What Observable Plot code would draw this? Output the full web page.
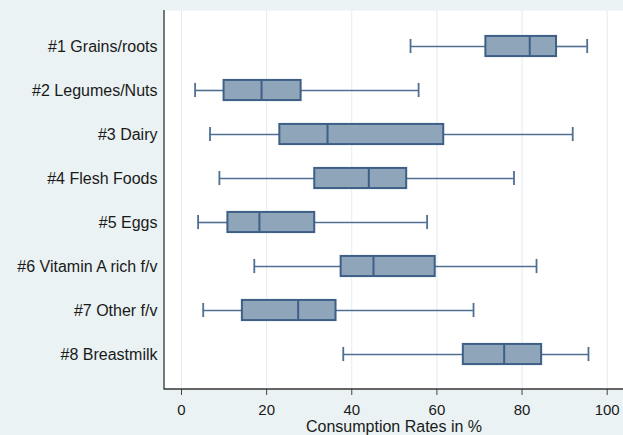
<!DOCTYPE html>
<html>
<head>
<meta charset="utf-8">
<script src="https://cdn.jsdelivr.net/npm/d3@7"></script>
<script src="https://cdn.jsdelivr.net/npm/@observablehq/plot@0.6"></script>
<style>
  html, body { margin: 0; padding: 0; background: #eaf2f3; }
  #chart { width: 623px; height: 435px; }
</style>
</head>
<body>
<div id="chart"></div>
<script>
const categories = ["#1 Grains/roots", "#2 Legumes/Nuts", "#3 Dairy", "#4 Flesh Foods", "#5 Eggs", "#6 Vitamin A rich f/v", "#7 Other f/v", "#8 Breastmilk"];
const lowWhisker  = [53.8,  3.2,  6.7,  8.9,  3.9, 17.1,  5.1, 38.0];
const q1          = [71.5, 10.0, 23.1, 31.3, 10.9, 37.5, 14.3, 66.2];
const median      = [81.8, 18.8, 34.3, 44.0, 18.3, 45.1, 27.4, 75.8];
const q3          = [88.1, 28.1, 61.6, 52.9, 31.3, 59.6, 36.3, 84.6];
const highWhisker = [95.3, 55.7, 91.9, 78.1, 57.7, 83.4, 68.6, 95.6];
const xTicks = [0, 20, 40, 60, 80, 100];
const xTitle = "Consumption Rates in %";

const rows = categories.map((c, i) => ({
  cat: c, lo: lowWhisker[i], q1: q1[i], med: median[i], q3: q3[i], hi: highWhisker[i]
}));

const boxFill = "#8fa5ba";
const boxStroke = "#3e5f86";
const whisker = "#4f6f93";
const step = (379.2 - 20.4) / categories.length;
const boxInset = (step - 21) / 2;
const capInset = (step - 15) / 2;

const chart = Plot.plot({
  width: 623,
  height: 435,
  marginLeft: 164,
  marginRight: 0,
  marginTop: 10,
  marginBottom: 46,
  style: { background: "#eaf2f3", fontFamily: "'Liberation Sans', Arial, sans-serif", color: "#1a1a1a" },
  x: { domain: [0, 100], range: [181, 606.7], line: false },
  y: { domain: categories, range: [20.4, 379.2], padding: 0 },
  marks: [
    Plot.frame({ fill: "white", stroke: "none" }),
    Plot.gridX(xTicks, { stroke: "#e3ecef", strokeOpacity: 1, strokeWidth: 1 }),
    // whiskers
    Plot.ruleY(rows, { y: "cat", x1: "lo", x2: "q1", stroke: whisker, strokeWidth: 1.6 }),
    Plot.ruleY(rows, { y: "cat", x1: "q3", x2: "hi", stroke: whisker, strokeWidth: 1.6 }),
    Plot.tickX(rows, { x: "lo", y: "cat", stroke: whisker, strokeWidth: 1.8, insetTop: capInset, insetBottom: capInset }),
    Plot.tickX(rows, { x: "hi", y: "cat", stroke: whisker, strokeWidth: 1.8, insetTop: capInset, insetBottom: capInset }),
    // boxes
    Plot.barX(rows, { y: "cat", x1: "q1", x2: "q3", fill: boxFill, stroke: boxStroke, strokeWidth: 2, insetTop: boxInset, insetBottom: boxInset }),
    Plot.tickX(rows, { x: "med", y: "cat", stroke: boxStroke, strokeWidth: 2, insetTop: boxInset, insetBottom: boxInset }),
    // axes
    Plot.axisY({ tickSize: 0, tickPadding: 7, fontSize: 16, label: null, textAnchor: "end" }),
    Plot.axisX(xTicks, { tickSize: 6, tickPadding: 9, fontSize: 15, label: null, stroke: "#444" }),
    Plot.text([xTitle], { frameAnchor: "bottom", lineAnchor: "middle", dy: 37, fontSize: 16, fill: "#1a1a1a" })
  ]
});

// axis lines along left and bottom of the plot region
const svg = d3.select(chart);
svg.append("line").attr("x1", 164).attr("x2", 164).attr("y1", 10).attr("y2", 389.5).attr("stroke", "#333").attr("stroke-width", 1.3);
svg.append("line").attr("x1", 164).attr("x2", 623).attr("y1", 389).attr("y2", 389).attr("stroke", "#333").attr("stroke-width", 1.3);

document.getElementById("chart").appendChild(chart);
</script>
</body>
</html>
